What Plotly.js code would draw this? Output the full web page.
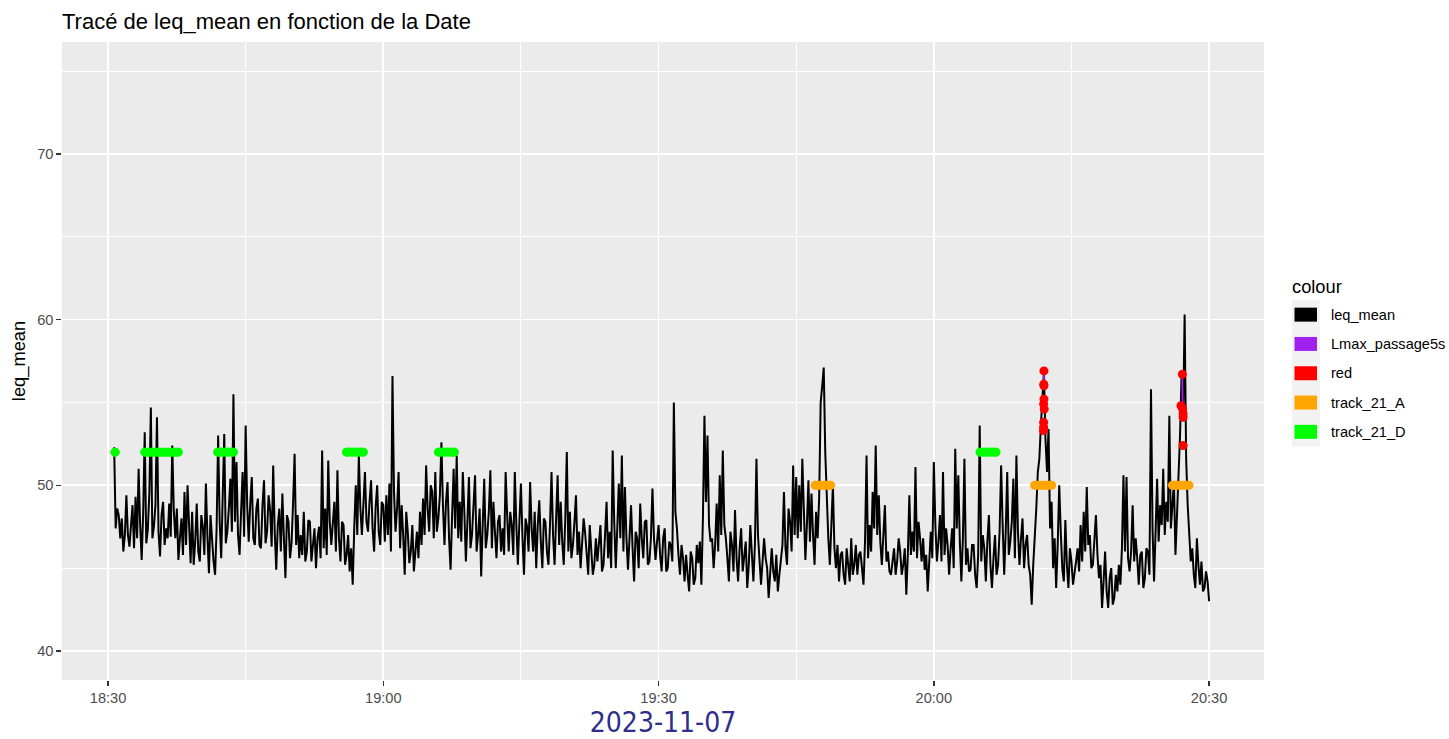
<!DOCTYPE html>
<html><head><meta charset="utf-8">
<script src="https://cdn.plot.ly/plotly-3.0.1.min.js"></script>
<style>html,body{margin:0;padding:0;background:#fff}#chart{width:1449px;height:739px}</style>
</head><body><div id="chart"></div>
<script>
// ---------- data ----------
const chartTitle = 'Tracé de leq_mean en fonction de la Date';
const xAxisTitle = '2023-11-07';
const yAxisTitle = 'leq_mean';
const legendTitle = 'colour';
const seriesNames = ['leq_mean', 'Lmax_passage5s', 'red', 'track_21_A', 'track_21_D'];
const seriesColors = ['#000000', '#A020F0', '#FF0000', '#FFA500', '#00FF00'];

const xTickValues = ['2023-11-07 18:30:00', '2023-11-07 19:00:00', '2023-11-07 19:30:00', '2023-11-07 20:00:00', '2023-11-07 20:30:00'];
const xTickLabels = ['18:30', '19:00', '19:30', '20:00', '20:30'];
const xMinorValues = ['2023-11-07 18:45:00', '2023-11-07 19:15:00', '2023-11-07 19:45:00', '2023-11-07 20:15:00'];
const yTickValues = [40, 50, 60, 70];
const yMinorValues = [45, 55, 65, 75];

// leq_mean: readings every 20 s from 18:30:40 (leqMean)
// and the readings 10 s later, in between (leqMeanHalf)
const leqStart = '2023-11-07 18:30:40';
const leqStepSeconds = 20;
const leqMean = [
  52.3, 48.6, 46.8, 46.0, 49.4, 46.3, 48.8, 49.3, 51.0, 45.5,
  53.2, 47.3, 54.7, 47.5, 54.1, 45.7, 49.0, 47.4, 48.9, 52.4,
  46.8, 45.5, 48.0, 49.6, 50.0, 45.3, 45.2, 48.9, 45.4, 47.5,
  50.1, 44.7, 46.6, 44.6, 53.0, 45.6, 53.1, 47.2, 50.4, 55.5,
  51.4, 45.8, 50.8, 53.6, 46.6, 50.5, 46.4, 49.2, 46.2, 50.3,
  47.2, 48.5, 51.2, 44.9, 48.6, 49.5, 44.4, 47.8, 46.5, 51.9,
  48.2, 47.0, 48.4, 46.0, 47.8, 46.3, 45.0, 47.5, 52.1, 48.6,
  51.5, 46.4, 49.0, 50.9, 45.4, 47.6, 45.8, 44.8, 44.0, 50.0,
  51.8, 47.0, 50.8, 47.2, 50.3, 46.0, 50.0, 46.4, 48.8, 49.4,
  50.1, 56.6, 47.2, 50.8, 48.8, 44.6, 47.2, 46.0, 44.8, 47.2,
  48.4, 49.2, 51.2, 47.2, 49.6, 50.8, 48.0, 52.6, 46.4, 50.2,
  44.9, 51.0, 51.8, 49.0, 50.8, 45.4, 50.5, 47.0, 50.6, 47.0,
  44.5, 50.4, 47.0, 50.9, 49.0, 45.6, 48.2, 47.4, 50.8, 46.0,
  47.6, 50.8, 45.2, 50.1, 44.6, 47.5, 50.2, 46.0, 45.0, 49.1,
  45.0, 47.8, 45.2, 50.8, 45.2, 50.6, 49.0, 45.2, 52.0, 48.4,
  46.4, 49.4, 47.2, 46.4, 47.1, 44.6, 46.3, 45.2, 45.4, 47.6,
  45.2, 49.0, 47.2, 52.1, 45.0, 50.1, 51.8, 49.9, 44.9, 48.8,
  44.2, 46.8, 48.9, 45.6, 47.9, 45.4, 49.8, 45.5, 47.6, 44.8,
  47.4, 45.0, 46.4, 55.0, 47.4, 44.6, 45.6, 45.8, 43.6, 45.6,
  44.4, 45.3, 44.0, 54.2, 53.0, 46.6, 45.0, 48.9, 50.6, 52.1,
  46.8, 44.2, 46.4, 48.5, 44.2, 47.4, 45.6, 43.8, 47.6, 44.2,
  51.6, 45.6, 45.4, 45.6, 43.2, 46.2, 44.2, 43.6, 45.6, 49.6,
  45.2, 47.8, 51.2, 50.5, 50.0, 51.6, 45.5, 50.3, 49.5, 45.2,
  46.8, 55.0, 57.1, 49.0, 45.2, 50.0, 45.0, 44.2, 46.0, 44.0,
  45.2, 46.8, 45.2, 44.6, 46.0, 44.0, 51.8, 47.6, 49.6, 52.4,
  49.4, 45.2, 48.8, 46.0, 44.6, 46.2, 45.4, 46.0, 45.2, 43.4,
  49.4, 47.2, 51.1, 47.8, 45.4, 44.9, 43.6, 47.2, 51.4, 45.4,
  48.2, 50.8, 47.4, 44.6, 47.4, 52.2, 50.6, 44.2, 51.6, 46.2,
  44.9, 46.4, 43.8, 53.6, 47.0, 44.2, 48.2, 43.8, 47.0, 45.2,
  51.2, 44.6, 50.8, 46.6, 50.4, 51.8, 45.2, 48.0, 46.4, 45.2,
  42.8, 46.6, 50.8, 53.6, 56.9, 50.8, 47.4, 45.0, 43.8, 50.0,
  45.0, 47.9, 43.8, 45.4, 44.6, 46.2, 47.6, 48.4, 49.9, 47.0,
  45.2, 48.2, 44.4, 42.6, 46.0, 42.6, 45.0, 43.2, 43.6, 44.0,
  50.6, 50.5, 44.8, 48.8, 46.8, 44.0, 46.0, 44.4, 46.0, 55.8,
  44.2, 50.4, 48.8, 51.0, 49.0, 54.2, 48.8, 45.8, 50.8, 56.7,
  60.3, 48.8, 45.4, 44.6, 46.8, 44.0, 43.6, 44.8, 43.0
];
const leqMeanHalf = [
  47.4, 48.2, 48.0, 47.0, 47.0, 47.9, 46.2, 46.8, 47.6, 48.4,
  46.5, 49.5, 46.8, 48.8, 47.2, 48.2, 46.4, 46.8, 46.9, 48.5,
  48.6, 46.8, 45.8, 46.4, 47.6, 48.4, 46.6, 46.0, 48.2, 45.8,
  46.9, 48.2, 45.4, 47.4, 47.8, 49.0, 46.5, 48.6, 47.2, 47.8,
  47.0, 48.4, 46.9, 48.8, 48.9, 46.8, 48.6, 46.4, 48.8, 46.5,
  49.4, 46.3, 47.2, 47.6, 46.0, 46.8, 48.2, 45.6, 48.9, 46.4,
  45.6, 45.8, 45.4, 47.9, 45.4, 47.4, 46.8, 45.6, 46.2, 45.8,
  47.8, 48.0, 46.0, 46.8, 47.8, 45.2, 47.0, 46.2, 47.4, 47.0,
  48.6, 48.9, 47.8, 49.0, 47.4, 48.7, 47.2, 49.0, 46.6, 47.0,
  46.0, 49.6, 48.6, 46.2, 47.0, 48.4, 45.3, 47.6, 46.0, 45.6,
  46.4, 47.0, 48.6, 50.0, 46.8, 47.2, 49.4, 48.8, 49.0, 46.8,
  48.2, 47.4, 46.8, 46.6, 48.4, 47.8, 46.2, 48.8, 46.0, 48.6,
  47.6, 46.2, 48.4, 46.2, 47.2, 47.8, 46.0, 45.8, 48.2, 48.4,
  45.8, 47.6, 47.8, 46.9, 48.0, 46.0, 47.4, 48.4, 47.6, 46.6,
  48.0, 46.0, 47.6, 47.0, 48.0, 46.4, 46.6, 48.0, 46.0, 45.6,
  47.8, 45.8, 45.0, 48.0, 45.6, 47.6, 44.6, 46.8, 46.6, 44.8,
  47.0, 45.6, 45.0, 47.8, 47.4, 46.8, 46.0, 46.8, 46.8, 46.2,
  47.2, 45.0, 46.8, 47.8, 45.2, 46.8, 46.8, 46.6, 45.8, 46.8,
  44.8, 46.6, 45.4, 48.4, 45.8, 46.4, 44.2, 44.6, 46.0, 44.0,
  46.4, 46.6, 48.0, 49.0, 47.6, 46.8, 46.4, 46.0, 47.0, 47.6,
  45.6, 47.2, 44.8, 45.6, 46.2, 44.8, 46.6, 45.2, 45.8, 46.4,
  47.0, 44.0, 46.8, 45.0, 45.0, 44.8, 45.8, 44.6, 46.4, 46.2,
  48.6, 46.0, 47.0, 46.8, 47.2, 48.8, 47.6, 46.6, 47.0, 48.4,
  49.2, 56.0, 52.0, 46.8, 47.4, 46.2, 46.4, 45.8, 44.6, 46.2,
  44.2, 44.6, 46.4, 45.8, 45.0, 46.6, 45.6, 46.0, 47.4, 47.0,
  46.6, 47.0, 45.4, 44.8, 45.4, 44.6, 46.8, 44.6, 46.2, 45.8,
  45.8, 46.0, 45.6, 46.8, 46.8, 45.8, 45.4, 45.6, 47.6, 46.6,
  45.4, 45.8, 46.4, 46.2, 45.0, 47.4, 46.6, 46.8, 45.2, 44.8,
  46.4, 44.6, 45.8, 45.4, 46.2, 46.6, 45.2, 45.6, 44.6, 47.2,
  47.6, 47.2, 45.8, 47.8, 45.6, 47.2, 46.8, 45.0, 47.0, 44.6,
  45.2, 48.6, 51.6, 55.6, 52.8, 53.4, 49.0, 46.8, 46.4, 47.2,
  44.2, 45.2, 46.2, 44.0, 45.4, 44.8, 45.4, 46.0, 46.4, 45.0,
  46.6, 45.8, 45.2, 44.2, 43.6, 44.4, 42.8, 44.6, 45.2, 46.2,
  46.0, 45.6, 46.0, 45.4, 45.6, 45.8, 43.8, 46.2, 44.6, 47.4,
  47.2, 46.6, 47.6, 47.0, 47.8, 47.4, 50.2, 48.2, 53.0, 54.0,
  51.6, 47.0, 46.2, 43.8, 45.2, 45.4, 43.8, 44.2
];

// Lmax_passage5s (short purple segments at the two passages)
const lmaxTimes = ['2023-11-07 20:12:00', '2023-11-07 20:12:00', null, '2023-11-07 20:27:05', '2023-11-07 20:27:07'];
const lmaxValues = [56.9, 55.9, null, 56.6, 54.7];

// red points
const redTimes = [
  '2023-11-07 20:12:00', '2023-11-07 20:11:59', '2023-11-07 20:12:00', '2023-11-07 20:12:00', '2023-11-07 20:11:58',
  '2023-11-07 20:12:02', '2023-11-07 20:11:58', '2023-11-07 20:11:58', '2023-11-07 20:11:57',
  '2023-11-07 20:27:05', '2023-11-07 20:26:56', '2023-11-07 20:27:07', '2023-11-07 20:27:10', '2023-11-07 20:27:10', '2023-11-07 20:27:10'
];
const redValues = [56.9, 56.1, 56.0, 55.2, 54.9, 54.6, 53.8, 53.5, 53.3, 56.7, 54.8, 54.6, 54.3, 54.1, 52.4];

// track_21_A (orange, level 50) and track_21_D (green, level 52): start / end of each passage
const trackAStart = ['2023-11-07 19:47:04', '2023-11-07 20:10:59', '2023-11-07 20:26:00'];
const trackAEnd   = ['2023-11-07 19:48:45', '2023-11-07 20:12:50', '2023-11-07 20:27:49'];
const trackALevel = 50;
const trackDStart = ['2023-11-07 18:30:46', '2023-11-07 18:34:00', '2023-11-07 18:41:56', '2023-11-07 18:55:59', '2023-11-07 19:06:00', '2023-11-07 20:05:02'];
const trackDEnd   = ['2023-11-07 18:30:46', '2023-11-07 18:37:40', '2023-11-07 18:43:40', '2023-11-07 18:57:50', '2023-11-07 19:07:45', '2023-11-07 20:06:47'];
const trackDLevel = 52;

// ---------- helpers ----------
function pad(n) { return String(n).padStart(2, '0'); }
function addSeconds(base, sec) {
  const parts = base.split(' ');
  const hms = parts[1].split(':').map(Number);
  const tot = hms[0] * 3600 + hms[1] * 60 + hms[2] + sec;
  return parts[0] + ' ' + pad(Math.floor(tot / 3600)) + ':' + pad(Math.floor((tot % 3600) / 60)) + ':' + pad(tot % 60);
}
const leqTimes = [], leqValues = [];
leqMean.forEach((v, i) => {
  leqTimes.push(addSeconds(leqStart, i * leqStepSeconds)); leqValues.push(v);
  if (i < leqMeanHalf.length) {
    leqTimes.push(addSeconds(leqStart, i * leqStepSeconds + leqStepSeconds / 2)); leqValues.push(leqMeanHalf[i]);
  }
});

function segments(starts, ends, level) {
  const xs = [], ys = [];
  starts.forEach((s, k) => { xs.push(s, ends[k], null); ys.push(level, level, null); });
  return { xs, ys };
}
const segA = segments(trackAStart, trackAEnd, trackALevel);
const segD = segments(trackDStart, trackDEnd, trackDLevel);

// ---------- geometry (pixels) ----------
const W = 1449, H = 739;
const PL = 62, PR = 1264, PT = 42, PB = 680;
const px2x = p => (p - PL) / (PR - PL);
const py2y = p => (PB - p) / (PB - PT);

const traces = [
  { type: 'scatter', mode: 'lines', x: leqTimes, y: leqValues, name: seriesNames[0],
    line: { color: seriesColors[0], width: 2.0 } },
  { type: 'scatter', mode: 'lines', x: lmaxTimes, y: lmaxValues, name: seriesNames[1],
    line: { color: seriesColors[1], width: 1.8 }, connectgaps: false },
  { type: 'scatter', mode: 'markers', x: redTimes, y: redValues, name: seriesNames[2],
    marker: { color: seriesColors[2], size: 9 } },
  { type: 'scatter', mode: 'lines+markers', x: segA.xs, y: segA.ys, name: seriesNames[3],
    line: { color: seriesColors[3], width: 9 }, marker: { color: seriesColors[3], size: 9 }, connectgaps: false },
  { type: 'scatter', mode: 'lines+markers', x: segD.xs, y: segD.ys, name: seriesNames[4],
    line: { color: seriesColors[4], width: 9 }, marker: { color: seriesColors[4], size: 9 }, connectgaps: false }
];

// ---------- ggplot-like legend drawn as shapes + text ----------
const keyLeft = 1292, keyRight = 1320, keyTop = 300, keyH = 29.3;
const shapes = [{
  type: 'rect', xref: 'paper', yref: 'paper', layer: 'above',
  x0: px2x(keyLeft), x1: px2x(keyRight), y0: py2y(keyTop), y1: py2y(keyTop + keyH * seriesNames.length),
  fillcolor: '#F2F2F2', line: { width: 0 }
}];
const annotations = [{
  text: legendTitle, xref: 'paper', yref: 'paper', x: px2x(1290), y: py2y(286),
  xanchor: 'left', yanchor: 'middle', showarrow: false, font: { size: 18.3, color: '#000000' }
}];
seriesNames.forEach((nm, k) => {
  const cy = keyTop + keyH * (k + 0.5);
  shapes.push({
    type: 'rect', xref: 'paper', yref: 'paper', layer: 'above',
    x0: px2x(keyLeft + 2.5), x1: px2x(keyRight - 3), y0: py2y(cy - 7), y1: py2y(cy + 7),
    fillcolor: seriesColors[k], line: { width: 0 }
  });
  annotations.push({
    text: nm, xref: 'paper', yref: 'paper', x: px2x(1329), y: py2y(cy),
    xanchor: 'left', yanchor: 'middle', showarrow: false, font: { size: 14.6, color: '#000000' }
  });
});

const layout = {
  width: W, height: H,
  margin: { l: PL, r: W - PR, t: PT, b: H - PB, pad: 0 },
  paper_bgcolor: '#FFFFFF', plot_bgcolor: '#EBEBEB',
  font: { family: 'Liberation Sans, Arial, sans-serif', color: '#000000' },
  showlegend: false,
  hovermode: false,
  title: { text: chartTitle, xref: 'container', yref: 'container', x: PL / W, xanchor: 'left',
           y: 1 - 21 / H, yanchor: 'middle', font: { size: 22, color: '#000000' } },
  xaxis: {
    type: 'date', range: ['2023-11-07 18:24:59', '2023-11-07 20:35:59'],
    tickmode: 'array', tickvals: xTickValues, ticktext: xTickLabels,
    tickfont: { size: 14.6, color: '#4D4D4D' },
    ticks: 'outside', ticklen: 4.6, tickwidth: 1.4, tickcolor: '#333333',
    showgrid: true, gridcolor: '#FFFFFF', gridwidth: 1.8,
    minor: { tickmode: 'array', tickvals: xMinorValues, showgrid: true, gridcolor: '#FFFFFF', gridwidth: 0.9, ticks: '' },
    zeroline: false, showline: false, automargin: false,
    title: { text: xAxisTitle, standoff: 12,
             font: { family: 'DejaVu Sans Condensed, DejaVu Sans, sans-serif', size: 28, color: '#2E2E8B' } }
  },
  yaxis: {
    range: [38.25, 76.75],
    tickmode: 'array', tickvals: yTickValues, ticktext: yTickValues.map(String),
    tickfont: { size: 14.6, color: '#4D4D4D' },
    ticks: 'outside', ticklen: 4.6, tickwidth: 1.4, tickcolor: '#333333',
    showgrid: true, gridcolor: '#FFFFFF', gridwidth: 1.8,
    minor: { tickmode: 'array', tickvals: yMinorValues, showgrid: true, gridcolor: '#FFFFFF', gridwidth: 0.9, ticks: '' },
    zeroline: false, showline: false, automargin: false,
    title: { text: yAxisTitle, standoff: 6, font: { size: 18.3, color: '#000000' } }
  },
  shapes: shapes,
  annotations: annotations
};

Plotly.newPlot('chart', traces, layout, { staticPlot: true, displayModeBar: false });
</script>
</body></html>
